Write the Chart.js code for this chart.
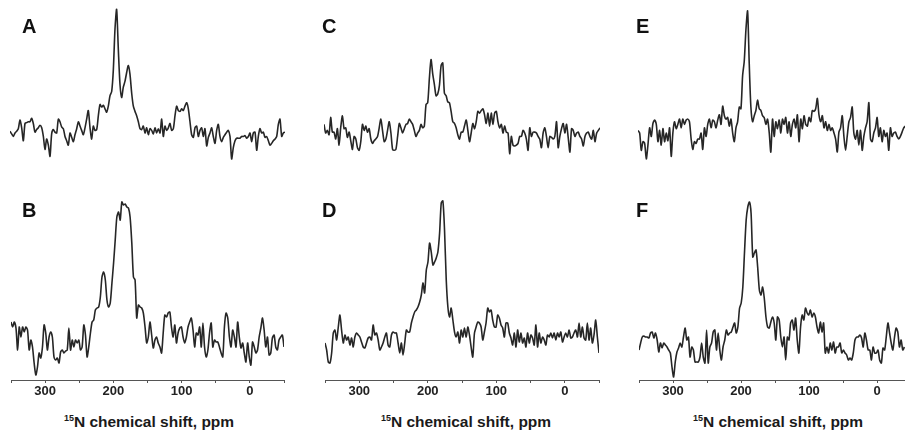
<!DOCTYPE html>
<html>
<head>
<meta charset="utf-8">
<script src="https://cdn.jsdelivr.net/npm/chart.js@4.4.1/dist/chart.umd.min.js"></script>
<style>
  html, body { margin: 0; padding: 0; background: #fff; overflow: hidden; }
  #wrap { position: relative; width: 905px; height: 432px; overflow: hidden; }
  canvas { position: absolute; }
  .letter { position: absolute; font: bold 20px "Liberation Sans", Arial, sans-serif; line-height: 20px; color: #111; }
  .xtitle { position: absolute; width: 220px; text-align: center; font: bold 15.5px "Liberation Sans", Arial, sans-serif; line-height: 15px; color: #1a1a1a; white-space: nowrap; }
  .xtitle sup { font-size: 9px; vertical-align: 6px; line-height: 0; }
</style>
</head>
<body>
<div id="wrap">
  <canvas id="cA" width="275" height="185" style="left:10px;top:5px"></canvas>
  <canvas id="cB" width="275" height="210" style="left:10px;top:195px"></canvas>
  <canvas id="cC" width="276" height="185" style="left:324px;top:5px"></canvas>
  <canvas id="cD" width="276" height="210" style="left:324px;top:195px"></canvas>
  <canvas id="cE" width="274" height="185" style="left:638px;top:5px"></canvas>
  <canvas id="cF" width="274" height="210" style="left:638px;top:195px"></canvas>

  <div class="letter" style="left:22px;top:16px">A</div>
  <div class="letter" style="left:22px;top:200px">B</div>
  <div class="letter" style="left:322px;top:16px">C</div>
  <div class="letter" style="left:322px;top:200px">D</div>
  <div class="letter" style="left:636px;top:16px">E</div>
  <div class="letter" style="left:636px;top:200px">F</div>

  <div class="xtitle" style="left:39px;top:414px"><sup>15</sup>N chemical shift, ppm</div>
  <div class="xtitle" style="left:356px;top:414px"><sup>15</sup>N chemical shift, ppm</div>
  <div class="xtitle" style="left:668px;top:414px"><sup>15</sup>N chemical shift, ppm</div>
</div>
<script>
// chemical shift grid (ppm), shared by all six spectra
const ppm = [350.0,347.6,345.2,342.7,340.3,337.9,335.5,333.0,330.6,328.2,325.8,323.3,320.9,318.5,316.1,313.6,311.2,308.8,306.4,303.9,
  301.5,299.1,296.7,294.2,291.8,289.4,287.0,284.6,282.1,279.7,277.3,274.9,272.4,270.0,267.6,265.2,262.7,260.3,257.9,255.5,
  253.0,250.6,248.2,245.8,243.3,240.9,238.5,236.1,233.6,231.2,228.8,226.4,223.9,221.5,219.1,216.7,214.3,211.8,209.4,207.0,
  204.6,202.1,199.7,197.3,194.9,192.4,190.0,187.6,185.2,182.7,180.3,177.9,175.5,173.0,170.6,168.2,165.8,163.3,160.9,158.5,
  156.1,153.6,151.2,148.8,146.4,143.9,141.5,139.1,136.7,134.3,131.8,129.4,127.0,124.6,122.1,119.7,117.3,114.9,112.4,110.0,
  107.6,105.2,102.7,100.3,97.9,95.5,93.0,90.6,88.2,85.8,83.3,80.9,78.5,76.1,73.6,71.2,68.8,66.4,63.9,61.5,
  59.1,56.7,54.3,51.8,49.4,47.0,44.6,42.1,39.7,37.3,34.9,32.4,30.0,27.6,25.2,22.7,20.3,17.9,15.5,13.0,
  10.6,8.2,5.8,3.3,0.9,-1.5,-3.9,-6.4,-8.8,-11.2,-13.6,-16.1,-18.5,-20.9,-23.3,-25.8,-28.2,-30.6,-33.0,-35.5,
  -37.9,-40.3,-42.7,-45.2,-47.6,-50.0];

// intensities (arbitrary units)
const specA = [-1,-4,-7,-3,-1,2,12,3,-12,8, 9,10,10,14,8,-2,1,3,6,3, -7,-22,-10,-17,-30,-4,1,-2,-3,13,
  10,4,2,-7,-12,-17,-3,-8,-13,-5, 2,10,5,0,-5,3,13,23,3,-10, 5,0,1,17,30,27,29,25,21,28,
  40,45,70,117,140,93,53,38,50,57, 67,75,65,43,28,22,17,10,2,1, 5,-3,3,-5,2,0,-4,3,-3,2,
  -3,13,-7,5,0,3,8,0,2,17, 28,23,22,25,23,28,32,25,10,-5, -8,3,5,-7,0,3,-7,2,-18,-8,
  -3,3,-7,-15,0,7,-7,-13,-8,-5, -2,0,-7,-33,-20,-12,-9,-9,-9,-7, -7,-6,-9,-7,-3,-13,-3,-2,-23,-7,
  2,-3,-2,-8,-7,-12,-17,-15,-12,-10, -7,7,13,-7,-3,-2];

const specB = [18,13,18,12,-10,13,3,13,8,13, 10,-10,0,-7,-23,-35,-27,-13,-18,-7, 15,7,-10,3,8,3,-17,-20,-18,-23,
  -12,-10,-13,-11,-10,12,-10,0,-7,0, -3,0,-10,-7,15,5,-17,-7,7,18, 20,30,32,33,43,63,68,60,40,33,
  37,57,77,100,123,128,120,138,135,136, 133,132,123,97,63,60,22,35,33,32, 27,13,-3,3,18,5,-8,0,3,-3,
  -7,-13,7,25,23,27,28,13,3,15, -3,7,12,13,3,-3,3,13,18,22, 10,-7,7,5,13,-7,17,-7,-17,-10,
  7,17,-7,0,-2,-2,-7,-13,-17,13, 27,22,3,-7,10,3,-7,18,3,-8, -3,-13,-22,-3,-17,-25,-2,-7,-13,-10,
  3,12,22,10,-7,3,-15,-13,2,5, -7,-10,0,3,5,-7];

const specC = [7,-3,0,-5,15,-2,-2,-10,2,-17, 3,17,2,3,-8,-2,-12,-22,-7,-10, -20,-23,-13,7,0,5,-2,2,-10,-15,
  -12,-10,-7,3,13,0,-13,-10,0,10, -3,-22,-23,-22,-7,8,3,-3,2,7, 8,13,10,7,0,-7,-3,0,7,3,
  5,30,32,60,82,65,53,40,42,52, 75,78,43,40,33,32,22,10,8,3, -5,-10,-2,-2,5,12,0,-13,-3,8,
  2,10,22,20,23,25,18,8,20,5, 20,7,20,22,10,3,7,-3,5,-2, -3,-27,-7,-17,-18,-17,-15,-7,-7,0,
  -3,-10,-23,3,-7,-2,-2,-3,-7,-10, -20,-3,3,-7,-20,-7,-8,-10,-7,10, -20,-7,2,8,-3,7,-8,-25,2,0,
  -7,-3,-2,-7,-10,-18,-7,-3,-2,-7, -10,0,-13,-3,0,3];

const specD = [-3,-10,-22,-23,-13,7,10,0,13,25, 10,-3,5,0,3,-5,2,-7,3,7, 5,3,-2,-7,-8,-3,2,3,0,15,
  5,7,0,-10,-7,-3,3,7,-5,-7, 5,8,7,7,-3,-13,-3,-15,-3,10, 8,8,17,23,28,30,33,38,45,57,
  47,70,78,97,88,75,78,82,88,107, 137,139,110,60,33,23,32,20,8,3, 8,-3,10,3,12,3,13,5,-7,-17,
  7,13,18,17,13,0,8,17,32,28, 30,20,13,13,25,22,15,12,3,17, 17,7,2,-5,7,-7,10,-2,7,-3,
  2,-7,7,-3,5,2,-5,15,-7,7, -3,3,0,-5,5,3,7,2,7,0, 7,3,8,-2,3,7,3,10,2,3,
  7,10,3,17,3,13,2,0,17,0, 12,-3,5,20,3,-13];

const specE = [0,-3,-23,-13,-15,-33,-17,3,-7,8, 12,7,-13,0,-17,2,-13,-3,-12,3, -30,-3,10,2,7,13,3,13,7,12,
  13,10,-10,-22,-13,-15,-10,-10,-3,-22, 3,-7,7,13,3,12,10,3,12,18, 7,28,17,13,15,5,13,-3,-13,3,
  10,27,25,63,80,117,138,77,27,10, 17,23,35,25,23,17,15,7,13,-2, -25,13,-7,10,2,12,-3,13,7,15,
  -3,10,-7,7,13,3,18,-13,13,2, 17,7,5,15,10,23,22,25,37,18, 10,17,3,10,0,7,0,3,-3,-10,
  -25,-2,3,17,-7,-23,-7,10,15,27, -3,-10,0,-17,0,-23,-7,3,10,32, -10,-13,-3,3,15,-7,3,-13,0,-7,
  -3,-23,3,-7,-3,-2,-7,-10,-7,-2, 3,5];

const specF = [-10,-3,3,4,3,3,2,7,8,2, 7,0,-12,-3,-8,-3,-5,-7,-10,-13, -27,-37,-22,-12,-8,-3,-7,3,12,0,
  3,-17,-7,-10,-22,-22,-22,-17,-3,-17, -23,10,-23,-7,-3,8,10,-10,7,-10, -20,-7,0,10,5,7,8,13,17,7,
  13,32,37,53,87,120,133,138,127,83, 87,90,73,50,45,53,42,23,13,12, 18,23,17,0,23,20,3,-7,3,-20,
  3,0,17,20,10,22,0,-13,13,25, 20,32,27,25,30,23,27,23,13,7, 18,8,17,-13,-7,-13,-3,-10,-2,-13,
  -7,-7,-3,-13,-10,-13,-15,-20,-18,-20, -13,0,3,3,5,2,-7,7,0,-10, -10,-20,-7,-13,-13,-10,-20,-23,-8,-10,
  3,17,7,-3,-10,3,12,8,-7,0, -10,-7];

const tickLabels = [300, 200, 100, 0];

const FONT = '"Liberation Sans", Arial, sans-serif';

function toPoints(values) {
    const pts = [];
    values.forEach((v, i) => {
        if (v !== undefined && ppm[i] !== undefined) pts.push({ x: ppm[i], y: v });
    });
    return pts;
}

function makeSpectrum(id, values, showAxis) {
    const ctx = document.getElementById(id).getContext('2d');
    new Chart(ctx, {
        type: 'line',
        data: {
            datasets: [{
                data: toPoints(values),
                borderColor: '#262626',
                borderWidth: 1.6,
                pointRadius: 0,
                tension: 0.25,
                fill: false
            }]
        },
        options: {
            responsive: false,
            animation: false,
            layout: { padding: 0 },
            plugins: { legend: { display: false }, tooltip: { enabled: false } },
            scales: {
                x: {
                    type: 'linear',
                    display: showAxis,
                    min: -50,
                    max: 350,
                    reverse: true,
                    afterFit: (s) => { s.height = 25; },
                    ticks: {
                        stepSize: 50,
                        autoSkip: false,
                        maxRotation: 0,
                        padding: 1,
                        color: '#222',
                        font: { family: FONT, size: 13, weight: 'bold' },
                        callback: (v) => tickLabels.includes(v) ? String(v) : ''
                    },
                    grid: { drawOnChartArea: false, drawTicks: true, tickLength: 3, color: '#555' },
                    border: { display: true, color: '#555', width: 1 }
                },
                y: { display: false, min: -40, max: 145 }
            }
        }
    });
}

makeSpectrum('cA', specA, false);
makeSpectrum('cB', specB, true);
makeSpectrum('cC', specC, false);
makeSpectrum('cD', specD, true);
makeSpectrum('cE', specE, false);
makeSpectrum('cF', specF, true);
</script>
</body>
</html>
